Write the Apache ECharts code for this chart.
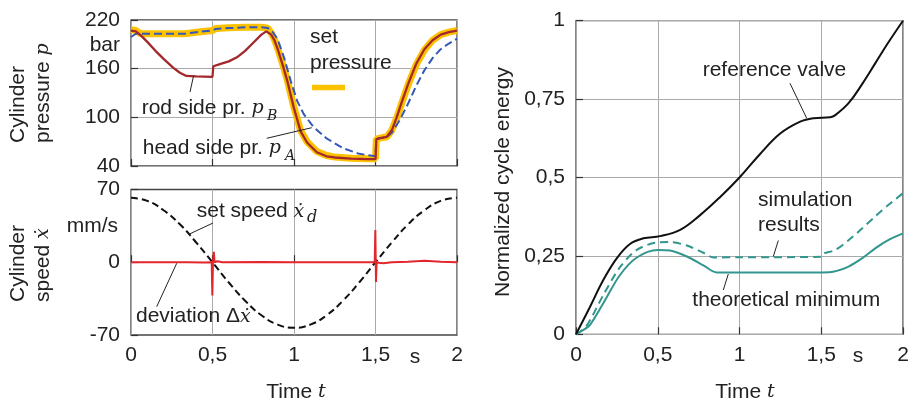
<!DOCTYPE html>
<html>
<head>
<meta charset="utf-8">
<script src="https://cdn.jsdelivr.net/npm/echarts@6.0.0/dist/echarts.min.js"></script>
<style>
html, body { margin: 0; padding: 0; background: #fff; }
#chart { width: 913px; height: 403px; }
</style>
</head>
<body>
<div id="chart"></div>
<script>
// tick values
const timeTicks = [0, 0.5, 1, 1.5, 2]
const pressureTicks = [40, 100, 160, 220]
const speedTicks = [-70, 0, 70]
const energyTicks = [0, 0.25, 0.5, 0.75, 1]

// cylinder pressure (bar)
const setPressureT = [0, 0.03, 0.06, 0.1, 0.2, 0.33, 0.4, 0.5, 0.52, 0.6, 0.7, 0.8, 0.84, 0.86, 0.88, 0.9, 0.93, 0.96, 1.0, 1.04, 1.08, 1.14, 1.2, 1.25, 1.35, 1.45, 1.5, 1.505, 1.52, 1.57, 1.6, 1.63, 1.66, 1.7, 1.75, 1.8, 1.85, 1.9, 1.95, 2.0]
const setPressure = [208, 207, 203, 203, 203, 203, 205, 207, 209.5, 210.5, 211, 211, 210, 204, 196, 185, 166, 145, 112, 84, 70, 58, 53, 51, 49.5, 49, 49, 73, 74, 76, 84, 99, 117, 140, 165, 183, 195, 202, 205, 207]
const rodPressureT = [0, 0.03, 0.06, 0.1, 0.15, 0.2, 0.26, 0.3, 0.34, 0.4, 0.5, 0.505, 0.55, 0.6, 0.65, 0.7, 0.75, 0.8, 0.83, 0.86, 0.88, 0.9, 0.93, 0.96, 1.0, 1.04, 1.08, 1.14, 1.2, 1.25, 1.35, 1.45, 1.5, 1.505, 1.52, 1.57, 1.6, 1.63, 1.66, 1.7, 1.75, 1.8, 1.85, 1.9, 1.95, 2.0]
const rodPressure = [207, 206, 201, 193, 182, 172, 161, 155, 151, 150.5, 150, 163, 166, 169, 174, 182, 192, 202, 206, 202, 195, 184, 165, 144, 111, 83, 69, 57, 52, 50.5, 49, 48.5, 48.5, 73, 74, 76, 84, 100, 118, 141, 166, 184, 195, 202, 205, 207]
const headPressureT = [0, 0.03, 0.1, 0.33, 0.4, 0.5, 0.52, 0.6, 0.7, 0.8, 0.84, 0.87, 0.9, 0.94, 0.98, 1.02, 1.06, 1.12, 1.2, 1.3, 1.4, 1.5, 1.505, 1.52, 1.57, 1.6, 1.65, 1.7, 1.75, 1.8, 1.85, 1.9, 1.95, 2.0]
const headPressure = [199, 203, 203, 203, 205, 207, 209, 210, 211, 211, 210, 205, 196, 173, 145, 120, 104, 88, 74, 62, 55, 52, 73, 74, 76, 81, 97, 117, 139, 158, 173, 184, 191, 197]

// cylinder speed (mm/s)
const setSpeedT = [0, 0.1, 0.2, 0.3, 0.4, 0.5, 0.6, 0.7, 0.8, 0.9, 1.0, 1.1, 1.2, 1.3, 1.4, 1.5, 1.6, 1.7, 1.8, 1.9, 2.0]
const setSpeed = [62, 59, 50, 36.5, 19, 0, -19.5, -37, -51, -60, -63, -60, -51, -37, -19.5, 0, 19, 36.5, 50, 59, 62]
const deviationT = [0, 0.04, 0.05, 0.06, 0.2, 0.35, 0.45, 0.495, 0.499, 0.503, 0.508, 0.513, 0.53, 0.56, 0.8, 1.0, 1.2, 1.495, 1.499, 1.503, 1.507, 1.52, 1.55, 1.6, 1.7, 1.8, 1.9, 2.0]
const deviation = [0, 0, 0.8, 0, 0, 0, -0.3, 0, -32, 0, 10, 0, 1, 0, 0.3, 0, 0, 0, 31, -19, 0, -0.5, -1, 0, 0.5, 1.5, 0.5, 0]

// normalized cycle energy
const refEnergyT = [0, 0.086, 0.167, 0.249, 0.33, 0.412, 0.514, 0.637, 0.759, 0.882, 1.0, 1.126, 1.249, 1.371, 1.453, 1.555, 1.586, 1.667, 1.749, 1.83, 1.912, 2.0]
const refEnergy = [0, 0.088, 0.173, 0.242, 0.288, 0.306, 0.313, 0.333, 0.38, 0.438, 0.5, 0.575, 0.64, 0.678, 0.689, 0.692, 0.699, 0.737, 0.797, 0.864, 0.932, 1.0]
const simEnergyT = [0, 0.04, 0.075, 0.167, 0.269, 0.372, 0.5, 0.575, 0.678, 0.779, 0.841, 1.0, 1.2, 1.495, 1.51, 1.586, 1.667, 1.749, 1.83, 1.912, 2.0]
const simEnergy = [0, 0.015, 0.035, 0.125, 0.214, 0.269, 0.293, 0.294, 0.283, 0.26, 0.245, 0.246, 0.246, 0.247, 0.257, 0.269, 0.3, 0.337, 0.376, 0.413, 0.45]
const minEnergyT = [0, 0.04, 0.086, 0.167, 0.269, 0.372, 0.5, 0.575, 0.678, 0.779, 0.861, 1.0, 1.3, 1.55, 1.6, 1.667, 1.749, 1.83, 1.912, 2.0]
const minEnergy = [0, 0.012, 0.03, 0.099, 0.189, 0.245, 0.269, 0.267, 0.248, 0.22, 0.197, 0.197, 0.197, 0.198, 0.203, 0.216, 0.242, 0.274, 0.301, 0.322]

function pairs (t, v) {
	return t.map((x, i) => [x, v[i]])
}
function comma (v) {
	return String(v).replace('.', ',')
}

const textColor = '#222'
const sans = '"Liberation Sans", Arial, sans-serif'
const rich = {
	a: { fontFamily: sans, fontSize: 21, color: textColor },
	m: { fontFamily: '"DejaVu Serif", serif', fontStyle: 'italic', fontSize: 19, color: textColor }
}

function xAxis (gridIndex, showLabel) {
	return {
		type: 'value', gridIndex: gridIndex,
		min: timeTicks[0], max: timeTicks[timeTicks.length - 1], interval: 0.5,
		axisLine: { show: false },
		axisTick: { inside: true, length: 7, lineStyle: { color: '#333', width: 1.2 } },
		splitLine: { show: true, lineStyle: { color: '#aaa', width: 1 } },
		axisLabel: { show: showLabel, margin: 10, color: textColor, fontSize: 21, fontFamily: sans, formatter: comma }
	}
}
function yAxis (gridIndex, ticks, split) {
	return {
		type: 'value', gridIndex: gridIndex,
		min: ticks[0], max: ticks[ticks.length - 1], interval: ticks[1] - ticks[0],
		axisLine: { show: false },
		axisTick: { inside: true, length: 7, lineStyle: { color: '#333', width: 1.2 } },
		splitLine: { show: split, lineStyle: { color: '#aaa', width: 1 } },
		axisLabel: { margin: 11, color: textColor, fontSize: 21, fontFamily: sans, formatter: comma, showMinLabel: true, showMaxLabel: true }
	}
}
function line (name, data, xi, color, width, type, z, smooth) {
	return {
		name: name, type: 'line', data: data, xAxisIndex: xi, yAxisIndex: xi,
		symbol: 'none', z: z, smooth: smooth || false,
		lineStyle: { color: color, width: width, type: type },
		emphasis: { disabled: true }
	}
}

function text (x, y, str, extra) {
	return {
		type: 'text', x: x, y: y, rotation: (extra && extra.rotation) || 0, z: 10,
		style: Object.assign({
			text: str, rich: rich, font: '21px ' + sans, fill: textColor,
			textAlign: 'left', textVerticalAlign: 'middle'
		}, extra && extra.style)
	}
}
function sub (x, y, str, size) {
	return {
		type: 'text', x: x, y: y, z: 10,
		style: { text: str, font: 'italic ' + size + 'px "DejaVu Serif", serif', fill: textColor, textAlign: 'left', textVerticalAlign: 'middle' }
	}
}
function leader (x1, y1, x2, y2) {
	return { type: 'line', z: 10, shape: { x1: x1, y1: y1, x2: x2, y2: y2 }, style: { stroke: '#222', lineWidth: 1 } }
}

const frame = { show: true, borderColor: '#444', borderWidth: 1.3, backgroundColor: 'transparent' }
const rot = Math.PI / 2

let myChart = echarts.init(document.getElementById('chart'), null, { renderer: 'canvas' })

myChart.setOption({
	animation: false,
	backgroundColor: '#fff',
	grid: [
		Object.assign({ left: 131, top: 20, width: 326, height: 146 }, frame),
		Object.assign({ left: 131, top: 189.5, width: 326, height: 145.5 }, frame),
		Object.assign({ left: 576, top: 20.7, width: 327, height: 313.6 }, frame)
	],
	xAxis: [xAxis(0, false), xAxis(1, true), xAxis(2, true)],
	yAxis: [yAxis(0, pressureTicks, true), yAxis(1, speedTicks, false), yAxis(2, energyTicks, true)],
	series: [
		line('set pressure', pairs(setPressureT, setPressure), 0, '#fcc200', 7, 'solid', 2),
		line('head side', pairs(headPressureT, headPressure), 0, '#3557b7', 2, [8, 4], 3),
		line('rod side', pairs(rodPressureT, rodPressure), 0, '#a3282b', 2.3, 'solid', 4),
		line('set speed', pairs(setSpeedT, setSpeed), 1, '#111', 2, [7, 4], 3, true),
		line('deviation', pairs(deviationT, deviation), 1, '#e3262c', 2, 'solid', 4),
		line('reference valve', pairs(refEnergyT, refEnergy), 2, '#111', 2, 'solid', 4, 0.4),
		line('simulation results', pairs(simEnergyT, simEnergy), 2, '#33968e', 2, [8, 5], 3, 0.3),
		line('theoretical minimum', pairs(minEnergyT, minEnergy), 2, '#33968e', 2, 'solid', 3, 0.3)
	],
	graphic: [
		// axis units and names
		text(120, 45, 'bar', { style: { textAlign: 'right' } }),
		text(118, 226, 'mm/s', { style: { textAlign: 'right' } }),
		text(415, 357, 's', { style: { textAlign: 'center' } }),
		text(858, 356, 's', { style: { textAlign: 'center' } }),
		text(296, 392, '{a|Time }{m|t}', { style: { textAlign: 'center' } }),
		text(745, 392, '{a|Time }{m|t}', { style: { textAlign: 'center' } }),
		text(18, 143, 'Cylinder', { rotation: rot }),
		text(43, 143, '{a|pressure }{m|p}', { rotation: rot }),
		text(18, 302, 'Cylinder', { rotation: rot }),
		text(43, 302, '{a|speed }{m|ẋ}', { rotation: rot }),
		text(503, 297, 'Normalized cycle energy', { rotation: rot }),

		// pressure annotations
		text(310, 37, 'set'),
		text(310, 63, 'pressure'),
		{ type: 'line', z: 10, shape: { x1: 312, y1: 87.5, x2: 345, y2: 87.5 }, style: { stroke: '#fcc200', lineWidth: 5.5 } },
		text(141.7, 108, '{a|rod side pr. }{m|p}'),
		sub(267, 116, 'B', 14),
		leader(190, 92, 193.5, 76),
		text(142.7, 148.3, '{a|head side pr. }{m|p}'),
		sub(285, 156, 'A', 14),
		leader(266.7, 138.3, 311.7, 127.7),

		// speed annotations
		text(196.7, 211.7, '{a|set speed }{m|ẋ}'),
		sub(307, 218, 'd', 16),
		leader(213, 223, 189.5, 234),
		text(136, 316.7, '{a|deviation Δ}{m|ẋ}'),
		leader(156.7, 306.7, 176.7, 263.3),

		// energy annotations
		text(702.7, 70, 'reference valve'),
		leader(790, 83.3, 806.7, 118.3),
		text(758, 200, 'simulation'),
		text(758, 225, 'results'),
		leader(778.3, 240.5, 773.3, 256.5),
		text(692.3, 300, 'theoretical minimum'),
		leader(723.3, 290, 728.3, 274)
	]
})
</script>
</body>
</html>
